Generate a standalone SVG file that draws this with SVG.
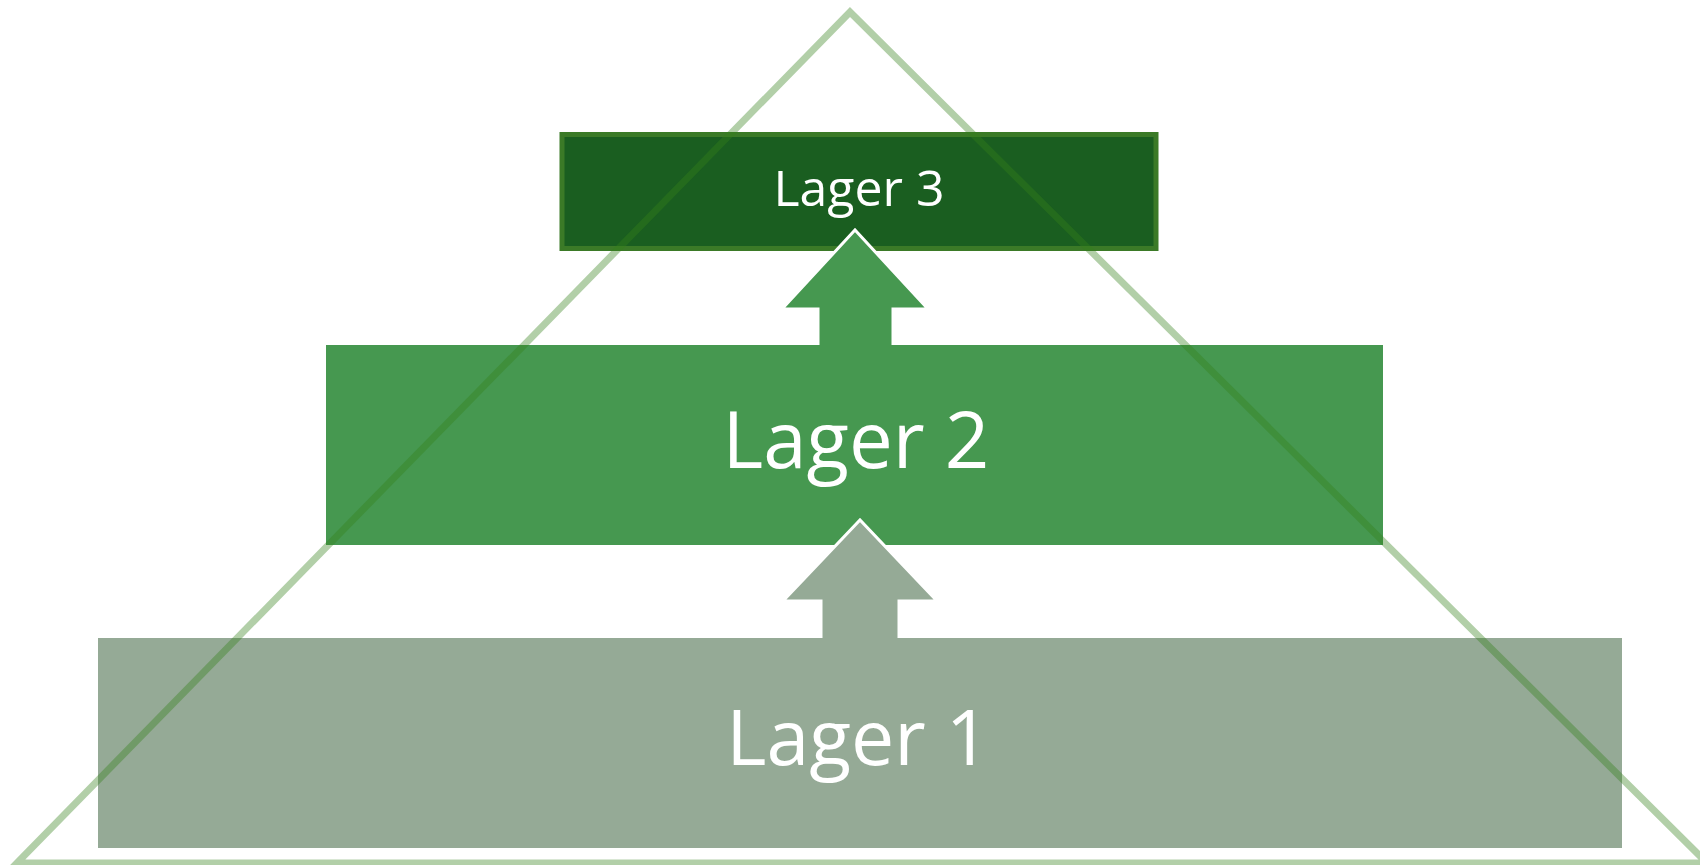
<svg xmlns="http://www.w3.org/2000/svg" width="1700" height="865" viewBox="0 0 1700 865">
  <style>
    .label { font-family: "Open Sans", "Noto Sans", "DejaVu Sans", sans-serif; fill: #ffffff; text-anchor: middle; }
    .arrow { stroke: #ffffff; stroke-width: 3; stroke-linejoin: miter; stroke-miterlimit: 10; }
  </style>
  <rect x="0" y="0" width="1700" height="865" fill="#ffffff"/>
  <g id="lager1">
    <rect x="98" y="638" width="1524" height="210" fill="#95aa96"/>
    <text class="label" x="858" y="765" font-size="77">Lager 1</text>
  </g>
  <g id="lager2">
    <rect x="326" y="345" width="1057" height="200" fill="#469850"/>
    <text class="label" x="856" y="468" font-size="78">Lager 2</text>
  </g>
  <g id="lager3">
    <rect x="562" y="134.5" width="594" height="114" fill="#1a5e20" stroke="#3b7a27" stroke-width="5"/>
    <text class="label" x="859" y="206" font-size="50">Lager 3</text>
  </g>
  <g id="connectors">
    <path class="arrow" d="M821 638 L821 601 L783 601 L860 520 L937 601 L899 601 L899 638" fill="#95aa96"/>
    <path class="arrow" d="M818 345 L818 309 L782 309 L855 230 L928 309 L893 309 L893 345" fill="#469850"/>
  </g>
  <g id="pyramid">
    <polygon points="17,863 850,12 1707,863" fill="none" stroke="#34811a" stroke-opacity="0.38" stroke-width="7" stroke-linejoin="miter" stroke-miterlimit="10"/>
  </g>
</svg>
